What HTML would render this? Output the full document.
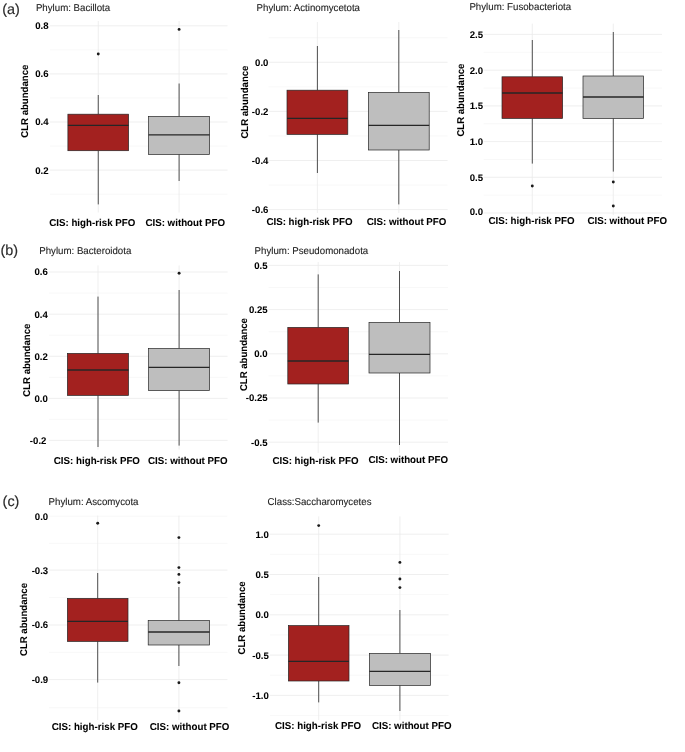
<!DOCTYPE html>
<html><head><meta charset="utf-8"><style>
html,body{margin:0;padding:0;background:#fff;}
svg{display:block;will-change:transform;}
text{font-family:"Liberation Sans",sans-serif;text-rendering:geometricPrecision;}
.gmaj{stroke:#EBEBEB;stroke-width:0.8;}
.gmin{stroke:#F3F3F3;stroke-width:0.6;}
.wh{stroke:#262626;stroke-width:0.8;}
.bx{stroke:#262626;stroke-width:0.7;}
.md{stroke:#262626;stroke-width:1.3;}
.ol{fill:#1a1a1a;}
.yl{font-size:9.6px;font-weight:bold;fill:#000;stroke:#000;stroke-width:0.06;text-anchor:end;}
.xl{font-size:9.75px;font-weight:bold;fill:#000;stroke:#000;stroke-width:0.06;}
.yt{font-size:9.6px;font-weight:bold;fill:#000;stroke:#000;stroke-width:0.06;text-anchor:middle;}
.tt{font-size:9.7px;fill:#222;stroke:#222;stroke-width:0.1;}
.tag{font-size:14.4px;fill:#2a2a2a;stroke:#2a2a2a;stroke-width:0.15;}
</style></head><body>
<svg width="685" height="752" viewBox="0 0 685 752">
<rect width="685" height="752" fill="#fff"/>
<g>
<line x1="50" x2="227.5" y1="49.9" y2="49.9" class="gmin"/>
<line x1="50" x2="227.5" y1="98" y2="98" class="gmin"/>
<line x1="50" x2="227.5" y1="146.1" y2="146.1" class="gmin"/>
<line x1="50" x2="227.5" y1="194.2" y2="194.2" class="gmin"/>
<line x1="50" x2="227.5" y1="25.8" y2="25.8" class="gmaj"/>
<line x1="50" x2="227.5" y1="73.9" y2="73.9" class="gmaj"/>
<line x1="50" x2="227.5" y1="122" y2="122" class="gmaj"/>
<line x1="50" x2="227.5" y1="170.1" y2="170.1" class="gmaj"/>
<line x1="98.25" x2="98.25" y1="21" y2="212.5" class="gmaj"/>
<line x1="179.1" x2="179.1" y1="21" y2="212.5" class="gmaj"/>
<line x1="98.25" x2="98.25" y1="95" y2="114.2" class="wh"/>
<line x1="98.25" x2="98.25" y1="150.7" y2="204.4" class="wh"/>
<rect x="67.9" y="114.2" width="60.7" height="36.5" fill="#A3211F" class="bx"/>
<line x1="67.9" x2="128.6" y1="125.4" y2="125.4" class="md"/>
<circle cx="98.25" cy="54" r="1.45" class="ol"/>
<line x1="179.1" x2="179.1" y1="83.5" y2="116.4" class="wh"/>
<line x1="179.1" x2="179.1" y1="154.4" y2="181" class="wh"/>
<rect x="148.6" y="116.4" width="61" height="38" fill="#BEBEBE" class="bx"/>
<line x1="148.6" x2="209.6" y1="134.8" y2="134.8" class="md"/>
<circle cx="179.1" cy="29.4" r="1.45" class="ol"/>
<text transform="translate(48.6,29.2) scale(1,1.0)" class="yl">0.8</text>
<text transform="translate(48.6,77.3) scale(1,1.0)" class="yl">0.6</text>
<text transform="translate(48.6,125.4) scale(1,1.0)" class="yl">0.4</text>
<text transform="translate(48.6,173.5) scale(1,1.0)" class="yl">0.2</text>
<text transform="translate(35.9,10.5) scale(1,1.03)" class="tt">Phylum: Bacillota</text>
<text transform="translate(27.8,101.2) rotate(-90) scale(1,1.03)" class="yt">CLR abundance</text>
<text transform="translate(49.2,225.8) scale(1,1.03)" class="xl">CIS: high-risk PFO</text>
<text transform="translate(145.4,225.6) scale(1,1.03)" class="xl">CIS: without PFO</text>
<line x1="268.6" x2="447.6" y1="37.75" y2="37.75" class="gmin"/>
<line x1="268.6" x2="447.6" y1="86.85" y2="86.85" class="gmin"/>
<line x1="268.6" x2="447.6" y1="135.95" y2="135.95" class="gmin"/>
<line x1="268.6" x2="447.6" y1="185.05" y2="185.05" class="gmin"/>
<line x1="268.6" x2="447.6" y1="62.3" y2="62.3" class="gmaj"/>
<line x1="268.6" x2="447.6" y1="111.4" y2="111.4" class="gmaj"/>
<line x1="268.6" x2="447.6" y1="160.5" y2="160.5" class="gmaj"/>
<line x1="268.6" x2="447.6" y1="209.6" y2="209.6" class="gmaj"/>
<line x1="317.4" x2="317.4" y1="22" y2="213" class="gmaj"/>
<line x1="398.8" x2="398.8" y1="22" y2="213" class="gmaj"/>
<line x1="317.4" x2="317.4" y1="46" y2="90.2" class="wh"/>
<line x1="317.4" x2="317.4" y1="134.4" y2="173" class="wh"/>
<rect x="287" y="90.2" width="60.8" height="44.2" fill="#A3211F" class="bx"/>
<line x1="287" x2="347.8" y1="118.4" y2="118.4" class="md"/>
<line x1="398.8" x2="398.8" y1="30" y2="92.4" class="wh"/>
<line x1="398.8" x2="398.8" y1="150" y2="204.4" class="wh"/>
<rect x="368.4" y="92.4" width="60.8" height="57.6" fill="#BEBEBE" class="bx"/>
<line x1="368.4" x2="429.2" y1="125.4" y2="125.4" class="md"/>
<text transform="translate(268.4,65.7) scale(1,1.0)" class="yl">0.0</text>
<text transform="translate(268.4,114.8) scale(1,1.0)" class="yl">-0.2</text>
<text transform="translate(268.4,163.9) scale(1,1.0)" class="yl">-0.4</text>
<text transform="translate(268.4,213) scale(1,1.0)" class="yl">-0.6</text>
<text transform="translate(256.6,11.3) scale(1,1.03)" class="tt">Phylum: Actinomycetota</text>
<text transform="translate(248.1,102.1) rotate(-90) scale(1,1.03)" class="yt">CLR abundance</text>
<text transform="translate(266.4,225) scale(1,1.03)" class="xl">CIS: high-risk PFO</text>
<text transform="translate(366.8,224.6) scale(1,1.03)" class="xl">CIS: without PFO</text>
<line x1="483.7" x2="662" y1="52.3" y2="52.3" class="gmin"/>
<line x1="483.7" x2="662" y1="88.05" y2="88.05" class="gmin"/>
<line x1="483.7" x2="662" y1="123.75" y2="123.75" class="gmin"/>
<line x1="483.7" x2="662" y1="159.45" y2="159.45" class="gmin"/>
<line x1="483.7" x2="662" y1="195.15" y2="195.15" class="gmin"/>
<line x1="483.7" x2="662" y1="34.4" y2="34.4" class="gmaj"/>
<line x1="483.7" x2="662" y1="70.2" y2="70.2" class="gmaj"/>
<line x1="483.7" x2="662" y1="105.9" y2="105.9" class="gmaj"/>
<line x1="483.7" x2="662" y1="141.6" y2="141.6" class="gmaj"/>
<line x1="483.7" x2="662" y1="177.3" y2="177.3" class="gmaj"/>
<line x1="483.7" x2="662" y1="213" y2="213" class="gmaj"/>
<line x1="532.3" x2="532.3" y1="23.6" y2="215" class="gmaj"/>
<line x1="613.3" x2="613.3" y1="23.6" y2="215" class="gmaj"/>
<line x1="532.3" x2="532.3" y1="40" y2="76.8" class="wh"/>
<line x1="532.3" x2="532.3" y1="118.4" y2="163.6" class="wh"/>
<rect x="502" y="76.8" width="60.6" height="41.6" fill="#A3211F" class="bx"/>
<line x1="502" x2="562.6" y1="93" y2="93" class="md"/>
<circle cx="532.3" cy="186" r="1.45" class="ol"/>
<line x1="613.3" x2="613.3" y1="32" y2="76" class="wh"/>
<line x1="613.3" x2="613.3" y1="118.4" y2="171.6" class="wh"/>
<rect x="583" y="76" width="60.6" height="42.4" fill="#BEBEBE" class="bx"/>
<line x1="583" x2="643.6" y1="97" y2="97" class="md"/>
<circle cx="613.3" cy="182" r="1.45" class="ol"/>
<circle cx="613.3" cy="206" r="1.45" class="ol"/>
<text transform="translate(483,37.8) scale(1,1.0)" class="yl">2.5</text>
<text transform="translate(483,73.6) scale(1,1.0)" class="yl">2.0</text>
<text transform="translate(483,109.3) scale(1,1.0)" class="yl">1.5</text>
<text transform="translate(483,145) scale(1,1.0)" class="yl">1.0</text>
<text transform="translate(483,180.7) scale(1,1.0)" class="yl">0.5</text>
<text transform="translate(483,214.6) scale(1,1.0)" class="yl">0.0</text>
<text transform="translate(469.4,10.3) scale(1,1.03)" class="tt">Phylum: Fusobacteriota</text>
<text transform="translate(463.6,100.1) rotate(-90) scale(1,1.03)" class="yt">CLR abundance</text>
<text transform="translate(488.4,224.4) scale(1,1.03)" class="xl">CIS: high-risk PFO</text>
<text transform="translate(587.4,224.4) scale(1,1.03)" class="xl">CIS: without PFO</text>
<line x1="49" x2="227.6" y1="293.1" y2="293.1" class="gmin"/>
<line x1="49" x2="227.6" y1="335.2" y2="335.2" class="gmin"/>
<line x1="49" x2="227.6" y1="377.4" y2="377.4" class="gmin"/>
<line x1="49" x2="227.6" y1="419.4" y2="419.4" class="gmin"/>
<line x1="49" x2="227.6" y1="272" y2="272" class="gmaj"/>
<line x1="49" x2="227.6" y1="314.2" y2="314.2" class="gmaj"/>
<line x1="49" x2="227.6" y1="356.3" y2="356.3" class="gmaj"/>
<line x1="49" x2="227.6" y1="398.4" y2="398.4" class="gmaj"/>
<line x1="49" x2="227.6" y1="440.4" y2="440.4" class="gmaj"/>
<line x1="98" x2="98" y1="265.4" y2="449.6" class="gmaj"/>
<line x1="179.1" x2="179.1" y1="265.4" y2="449.6" class="gmaj"/>
<line x1="98" x2="98" y1="296.6" y2="353.4" class="wh"/>
<line x1="98" x2="98" y1="395.4" y2="447" class="wh"/>
<rect x="67.4" y="353.4" width="61.1" height="42" fill="#A3211F" class="bx"/>
<line x1="67.4" x2="128.5" y1="370" y2="370" class="md"/>
<line x1="179.1" x2="179.1" y1="290" y2="348.5" class="wh"/>
<line x1="179.1" x2="179.1" y1="390.6" y2="445.6" class="wh"/>
<rect x="148.6" y="348.5" width="61" height="42.1" fill="#BEBEBE" class="bx"/>
<line x1="148.6" x2="209.6" y1="367.4" y2="367.4" class="md"/>
<circle cx="179.1" cy="273.2" r="1.45" class="ol"/>
<text transform="translate(47.8,275.4) scale(1,1.0)" class="yl">0.6</text>
<text transform="translate(47.8,317.6) scale(1,1.0)" class="yl">0.4</text>
<text transform="translate(47.8,359.7) scale(1,1.0)" class="yl">0.2</text>
<text transform="translate(47.8,401.8) scale(1,1.0)" class="yl">0.0</text>
<text transform="translate(46.4,443.8) scale(1,1.0)" class="yl">-0.2</text>
<text transform="translate(39.2,253.7) scale(1,1.03)" class="tt">Phylum: Bacteroidota</text>
<text transform="translate(29.8,360.2) rotate(-90) scale(1,1.03)" class="yt">CLR abundance</text>
<text transform="translate(53.8,463.6) scale(1,1.03)" class="xl">CIS: high-risk PFO</text>
<text transform="translate(148,463.6) scale(1,1.03)" class="xl">CIS: without PFO</text>
<line x1="268.6" x2="448" y1="287.5" y2="287.5" class="gmin"/>
<line x1="268.6" x2="448" y1="331.7" y2="331.7" class="gmin"/>
<line x1="268.6" x2="448" y1="375.9" y2="375.9" class="gmin"/>
<line x1="268.6" x2="448" y1="420.1" y2="420.1" class="gmin"/>
<line x1="268.6" x2="448" y1="265.4" y2="265.4" class="gmaj"/>
<line x1="268.6" x2="448" y1="309.6" y2="309.6" class="gmaj"/>
<line x1="268.6" x2="448" y1="353.8" y2="353.8" class="gmaj"/>
<line x1="268.6" x2="448" y1="398" y2="398" class="gmaj"/>
<line x1="268.6" x2="448" y1="442.2" y2="442.2" class="gmaj"/>
<line x1="318.2" x2="318.2" y1="262" y2="453" class="gmaj"/>
<line x1="399.5" x2="399.5" y1="262" y2="453" class="gmaj"/>
<line x1="318.2" x2="318.2" y1="274.4" y2="327.4" class="wh"/>
<line x1="318.2" x2="318.2" y1="384" y2="422.6" class="wh"/>
<rect x="287.8" y="327.4" width="60.8" height="56.6" fill="#A3211F" class="bx"/>
<line x1="287.8" x2="348.6" y1="361" y2="361" class="md"/>
<line x1="399.5" x2="399.5" y1="271" y2="322.4" class="wh"/>
<line x1="399.5" x2="399.5" y1="373" y2="445" class="wh"/>
<rect x="369" y="322.4" width="61" height="50.6" fill="#BEBEBE" class="bx"/>
<line x1="369" x2="430" y1="354.4" y2="354.4" class="md"/>
<text transform="translate(267.6,268.8) scale(1,1.0)" class="yl">0.5</text>
<text transform="translate(267.6,313) scale(1,1.0)" class="yl">0.25</text>
<text transform="translate(267.6,357.2) scale(1,1.0)" class="yl">0.0</text>
<text transform="translate(267.6,401.4) scale(1,1.0)" class="yl">-0.25</text>
<text transform="translate(267.6,445.6) scale(1,1.0)" class="yl">-0.5</text>
<text transform="translate(254.6,253.7) scale(1,1.03)" class="tt">Phylum: Pseudomonadota</text>
<text transform="translate(246.7,354.6) rotate(-90) scale(1,1.03)" class="yt">CLR abundance</text>
<text transform="translate(272.4,463.6) scale(1,1.03)" class="xl">CIS: high-risk PFO</text>
<text transform="translate(368.4,462.8) scale(1,1.03)" class="xl">CIS: without PFO</text>
<line x1="49" x2="227.4" y1="543.4" y2="543.4" class="gmin"/>
<line x1="49" x2="227.4" y1="597.6" y2="597.6" class="gmin"/>
<line x1="49" x2="227.4" y1="652.4" y2="652.4" class="gmin"/>
<line x1="49" x2="227.4" y1="707.7" y2="707.7" class="gmin"/>
<line x1="49" x2="227.4" y1="516.2" y2="516.2" class="gmin"/>
<line x1="49" x2="227.4" y1="570.1" y2="570.1" class="gmaj"/>
<line x1="49" x2="227.4" y1="625" y2="625" class="gmaj"/>
<line x1="49" x2="227.4" y1="679.6" y2="679.6" class="gmaj"/>
<line x1="97.7" x2="97.7" y1="515.6" y2="720" class="gmaj"/>
<line x1="178.9" x2="178.9" y1="515.6" y2="720" class="gmaj"/>
<line x1="97.7" x2="97.7" y1="573" y2="598.4" class="wh"/>
<line x1="97.7" x2="97.7" y1="641.4" y2="682.6" class="wh"/>
<rect x="67.4" y="598.4" width="60.6" height="43" fill="#A3211F" class="bx"/>
<line x1="67.4" x2="128" y1="621.4" y2="621.4" class="md"/>
<circle cx="97.7" cy="523.2" r="1.45" class="ol"/>
<line x1="178.9" x2="178.9" y1="587" y2="620.6" class="wh"/>
<line x1="178.9" x2="178.9" y1="645" y2="666" class="wh"/>
<rect x="148.2" y="620.6" width="61.4" height="24.4" fill="#BEBEBE" class="bx"/>
<line x1="148.2" x2="209.6" y1="632" y2="632" class="md"/>
<circle cx="178.9" cy="537.6" r="1.45" class="ol"/>
<circle cx="178.9" cy="567.6" r="1.45" class="ol"/>
<circle cx="178.9" cy="574.4" r="1.45" class="ol"/>
<circle cx="178.9" cy="582.6" r="1.45" class="ol"/>
<circle cx="178.9" cy="682.8" r="1.45" class="ol"/>
<circle cx="178.9" cy="711" r="1.45" class="ol"/>
<text transform="translate(48.2,519.6) scale(1,1.0)" class="yl">0.0</text>
<text transform="translate(48.2,573.5) scale(1,1.0)" class="yl">-0.3</text>
<text transform="translate(48.2,628.4) scale(1,1.0)" class="yl">-0.6</text>
<text transform="translate(48.2,683) scale(1,1.0)" class="yl">-0.9</text>
<text transform="translate(48.6,505.3) scale(1,1.03)" class="tt">Phylum: Ascomycota</text>
<text transform="translate(26.7,619.5) rotate(-90) scale(1,1.03)" class="yt">CLR abundance</text>
<text transform="translate(51.7,730) scale(1,1.03)" class="xl">CIS: high-risk PFO</text>
<text transform="translate(149.8,730) scale(1,1.03)" class="xl">CIS: without PFO</text>
<line x1="270" x2="448.6" y1="554.4" y2="554.4" class="gmin"/>
<line x1="270" x2="448.6" y1="594.6" y2="594.6" class="gmin"/>
<line x1="270" x2="448.6" y1="635" y2="635" class="gmin"/>
<line x1="270" x2="448.6" y1="675.2" y2="675.2" class="gmin"/>
<line x1="270" x2="448.6" y1="715.6" y2="715.6" class="gmin"/>
<line x1="270" x2="448.6" y1="534.2" y2="534.2" class="gmaj"/>
<line x1="270" x2="448.6" y1="574.5" y2="574.5" class="gmaj"/>
<line x1="270" x2="448.6" y1="614.8" y2="614.8" class="gmaj"/>
<line x1="270" x2="448.6" y1="655.1" y2="655.1" class="gmaj"/>
<line x1="270" x2="448.6" y1="695.4" y2="695.4" class="gmaj"/>
<line x1="318.7" x2="318.7" y1="516.4" y2="720" class="gmaj"/>
<line x1="399.9" x2="399.9" y1="516.4" y2="720" class="gmaj"/>
<line x1="318.7" x2="318.7" y1="577" y2="625.6" class="wh"/>
<line x1="318.7" x2="318.7" y1="681" y2="702.4" class="wh"/>
<rect x="288.4" y="625.6" width="60.6" height="55.4" fill="#A3211F" class="bx"/>
<line x1="288.4" x2="349" y1="661.4" y2="661.4" class="md"/>
<circle cx="318.7" cy="525.6" r="1.45" class="ol"/>
<line x1="399.9" x2="399.9" y1="610" y2="653.4" class="wh"/>
<line x1="399.9" x2="399.9" y1="685.4" y2="711" class="wh"/>
<rect x="369.4" y="653.4" width="61" height="32" fill="#BEBEBE" class="bx"/>
<line x1="369.4" x2="430.4" y1="671.4" y2="671.4" class="md"/>
<circle cx="399.9" cy="562.4" r="1.45" class="ol"/>
<circle cx="399.9" cy="579" r="1.45" class="ol"/>
<circle cx="399.9" cy="587.6" r="1.45" class="ol"/>
<text transform="translate(268.8,537.6) scale(1,1.0)" class="yl">1.0</text>
<text transform="translate(268.8,577.9) scale(1,1.0)" class="yl">0.5</text>
<text transform="translate(268.8,618.2) scale(1,1.0)" class="yl">0.0</text>
<text transform="translate(268.8,658.5) scale(1,1.0)" class="yl">-0.5</text>
<text transform="translate(268.8,698.8) scale(1,1.0)" class="yl">-1.0</text>
<text transform="translate(267.6,505.1) scale(1,1.03)" class="tt">Class:Saccharomycetes</text>
<text transform="translate(245.2,617.9) rotate(-90) scale(1,1.03)" class="yt">CLR abundance</text>
<text transform="translate(275,729) scale(1,1.03)" class="xl">CIS: high-risk PFO</text>
<text transform="translate(371.9,729) scale(1,1.03)" class="xl">CIS: without PFO</text>
<text transform="translate(2.2,13.6) scale(1,1.0)" class="tag">(a)</text>
<text transform="translate(0.5,255) scale(1,1.0)" class="tag">(b)</text>
<text transform="translate(2.6,505.8) scale(1,1.0)" class="tag">(c)</text>
</g>
</svg>
</body></html>
